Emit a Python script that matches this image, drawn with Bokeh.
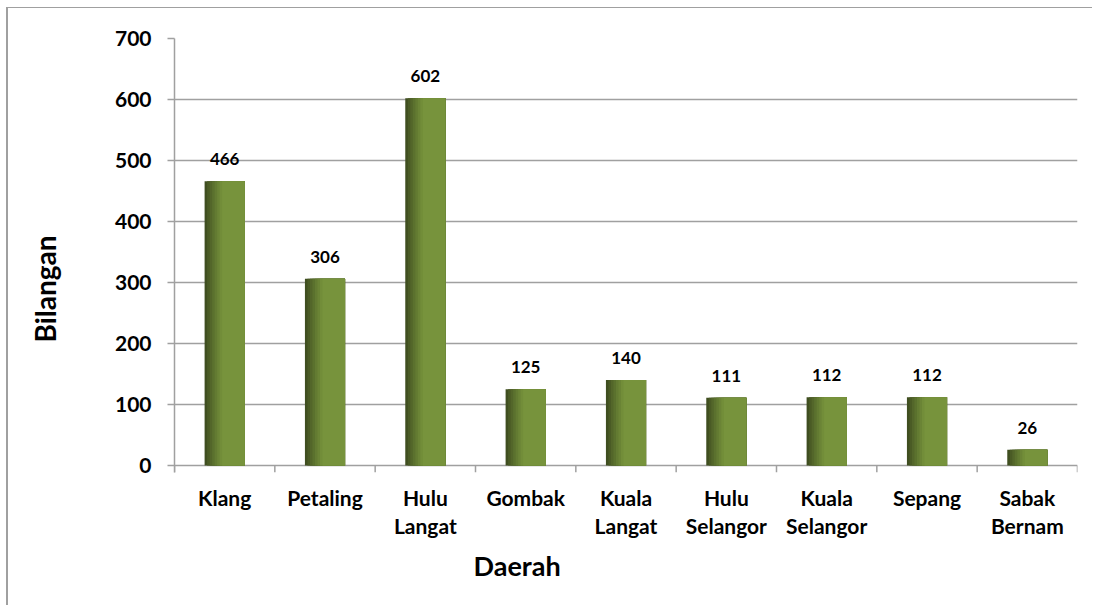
import numpy as np
from bokeh.plotting import figure
from bokeh.models import (ColumnDataSource, Range1d, FixedTicker, Title, LinearAxis)
from bokeh.transform import dodge
from bokeh.core.properties import value
from bokeh.embed import file_html
from bokeh.resources import INLINE

# ---- data ----
categories = ["Klang", "Petaling", "Hulu\nLangat", "Gombak", "Kuala\nLangat",
              "Hulu\nSelangor", "Kuala\nSelangor", "Sepang", "Sabak\nBernam"]
values = [466, 306, 602, 125, 140, 111, 112, 112, 26]
y_ticks = [0, 100, 200, 300, 400, 500, 600, 700]
x_title = "Daerah"
y_title = "Bilangan"

FONT = "Lato"
GRID = "#a0a0a0"

n = len(categories)
centers = np.arange(n) + 0.5
bounds = np.arange(n + 1)

# frame geometry (page px); figure placed at page (8, 8)
ox, oy = 8, 8
frame_left, frame_right, frame_top, zero_px = 174, 1077, 38, 465
tick_len = 7
ppu = (zero_px - frame_top) / 700.0
y_start = -tick_len / ppu

W, H = 1086, 598
p = figure(width=W, height=H, output_backend="svg", toolbar_location=None,
           x_range=Range1d(0, n), y_range=Range1d(y_start, 700),
           min_border_left=frame_left - ox, min_border_right=W - (frame_right - ox),
           min_border_top=frame_top - oy, min_border_bottom=H - (zero_px + tick_len - oy))
p.outline_line_color = None
p.background_fill_color = "white"
p.border_fill_color = "white"
p.styles = {"margin-left": "%dpx" % ox, "margin-top": "%dpx" % oy,
            "box-shadow": "-2px -1px 0 0 #a0a0a0"}

src = ColumnDataSource(dict(x=centers, v=values, lbl=[str(v) for v in values]))

# gradient bars: nested rects anchored on the right edge
bar_w = 0.4
ns = 16
sw = bar_w / ns
dark = np.array([0x38, 0x45, 0x1c])
main = np.array([0x77, 0x93, 0x3c])
for k in range(ns):
    t = (k + 0.5) / ns
    if t < 0.45:
        f = (t / 0.45) ** 0.8
        c = dark + (main - dark) * f
    else:
        c = main
    col = "#%02x%02x%02x" % tuple(int(round(v)) for v in c)
    w = bar_w - k * sw
    off = bar_w / 2 - w / 2
    p.vbar(x=dodge("x", off), top="v", bottom=0, width=w, source=src,
           fill_color=col, line_color=None)
    if t >= 0.45:
        break

# value labels
p.text(x="x", y="v", text="lbl", source=src, text_align="center",
       text_baseline="alphabetic", y_offset=-22, text_font=value(FONT),
       text_font_style="bold", text_font_size="17px", text_color="black")

# category boundary ticks below zero line
p.segment(x0=bounds, y0=np.zeros(n + 1), x1=bounds, y1=np.full(n + 1, y_start),
          line_color=GRID, line_width=1.5)

# y axis
ya = p.yaxis[0]
ya.ticker = FixedTicker(ticks=y_ticks)
ya.axis_line_color = GRID
ya.axis_line_width = 1.5
ya.major_tick_line_color = GRID
ya.major_tick_line_width = 1.5
ya.major_tick_out = tick_len
ya.major_tick_in = 0
ya.minor_tick_line_color = None
ya.major_label_standoff = 16
ya.major_label_text_font = FONT
ya.major_label_text_font_style = "bold"
ya.major_label_text_font_size = "21px"
ya.major_label_text_color = "black"

# blank axis (one white tick, empty label) used only as horizontal spacing
spacer = LinearAxis(ticker=FixedTicker(ticks=[0]), axis_line_color=None,
                    major_tick_line_color="white", minor_tick_line_color=None,
                    major_tick_out=45, major_tick_in=0, major_label_standoff=0,
                    major_label_overrides={0: ""})
p.add_layout(spacer, "left")

# y title
p.add_layout(Title(text=y_title, align="left", offset=130,
                   text_font=FONT, text_font_style="bold", text_font_size="28px",
                   text_color="black"), "left")

# x axis (labels only)
xa = p.xaxis[0]
xa.ticker = FixedTicker(ticks=list(centers))
xa.major_label_overrides = {float(c): name for c, name in zip(centers, categories)}
xa.axis_line_color = None
xa.major_tick_line_color = None
xa.minor_tick_line_color = None
xa.major_label_standoff = 6
xa.major_label_text_font = FONT
xa.major_label_text_font_style = "bold"
xa.major_label_text_font_size = "21px"
xa.major_label_text_color = "black"
xa.major_label_text_line_height = 1.15

p.ygrid.ticker = FixedTicker(ticks=y_ticks)
p.ygrid.grid_line_color = GRID
p.ygrid.grid_line_width = 1.5
p.xgrid.grid_line_color = None

# x title
p.add_layout(Title(text=x_title, align="left", offset=299,
                   text_font=FONT, text_font_style="bold", text_font_size="27px",
                   text_color="black"), "below")

open("out.html", "w").write(file_html(p, INLINE))
